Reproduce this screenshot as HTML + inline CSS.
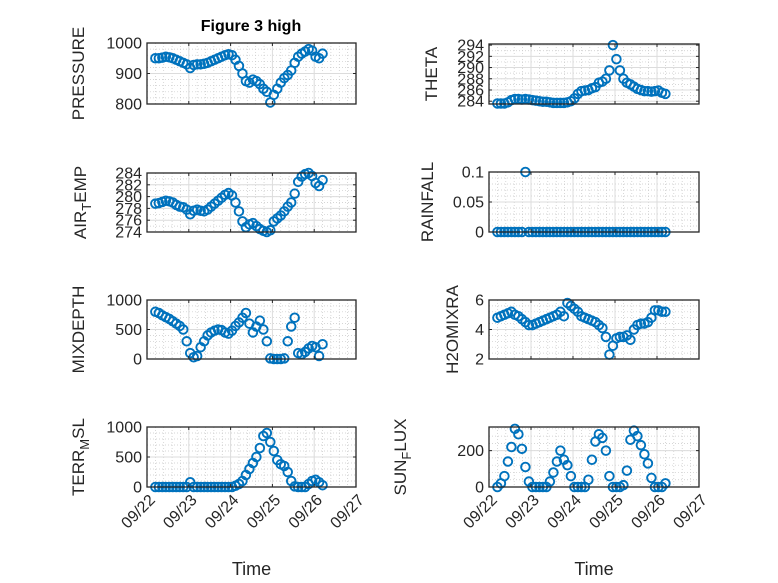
<!DOCTYPE html>
<html><head><meta charset="utf-8"><style>
body{margin:0;background:#fff}
svg{display:block;font-family:"Liberation Sans",sans-serif}
</style></head><body>
<svg id="fig" width="778" height="583" viewBox="0 0 778 583">
<rect width="778" height="583" fill="#fff"/>
<text x="251" y="31" font-size="16" font-weight="bold" text-anchor="middle" fill="#000">Figure 3 high</text>
</svg>
<script>
const tStart = 0.2, tStep = 1/12;
const pressure = [950,950,952,955,953,950,945,940,935,930,918,928,930,930,932,935,940,945,950,955,960,963,960,945,925,900,875,870,880,875,865,850,840,805,830,850,870,885,895,910,935,955,965,972,980,975,955,950,965];
const airTemp = [278.8,278.9,279.1,279.3,279.2,279,278.6,278.3,278.2,277.8,277,277.6,277.8,277.6,277.5,277.8,278.3,278.8,279.3,279.8,280.3,280.6,280.2,279,277.5,275.8,274.8,275.3,275.5,275,274.5,274.2,274,274.3,275.8,276.3,276.8,277.5,278.3,279,280.5,282.5,283.4,283.8,284,283.5,282.3,281.8,282.8];
const theta = [283.6,283.6,283.6,283.8,284.2,284.4,284.4,284.3,284.4,284.3,284.2,284.1,284,283.9,283.9,283.8,283.7,283.7,283.7,283.7,283.8,284,284.5,285.3,285.8,285.9,286,286.3,286.5,287.3,287.5,288,289.5,294,291.5,289.5,288,287.3,287,286.6,286.2,286,285.8,285.8,285.7,285.8,285.9,285.5,285.3];
const rainfall = [0,0,0,0,0,0,0,0,0.1,0,0,0,0,0,0,0,0,0,0,0,0,0,0,0,0,0,0,0,0,0,0,0,0,0,0,0,0,0,0,0,0,0,0,0,0,0,0,0,0];
const mixDepth = [800,780,740,710,680,640,600,560,500,300,100,30,50,200,300,400,450,480,500,490,450,430,480,560,620,700,780,600,450,550,650,500,300,10,0,0,0,10,300,550,700,100,80,120,180,220,200,50,250];
const h2o = [4.8,4.9,5,5.1,5.2,5,4.9,4.7,4.5,4.3,4.3,4.4,4.5,4.6,4.7,4.8,4.9,5,5.2,4.9,5.8,5.6,5.4,5.2,4.9,4.8,4.7,4.6,4.5,4.3,4.1,3.5,2.3,2.9,3.4,3.5,3.5,3.6,3.3,4,4.3,4.4,4.4,4.5,4.8,5.3,5.3,5.2,5.2];
const terrMsl = [0,0,0,0,0,0,0,0,0,0,80,0,0,0,0,0,0,0,0,0,0,0,0,20,50,100,200,300,400,500,650,850,900,750,600,450,380,350,250,100,10,0,0,0,50,100,120,80,30];
const sunFlux = [0,20,60,140,220,320,290,210,110,30,0,0,0,0,0,30,80,140,200,150,120,60,0,0,0,0,40,150,250,290,270,200,60,0,0,0,10,90,260,310,280,230,180,130,50,0,0,0,20];
const xTickLabels = ["09/22","09/23","09/24","09/25","09/26","09/27"];

const NS="http://www.w3.org/2000/svg";
const svg=document.getElementById('fig');
function mk(tag,attrs,parent){const e=document.createElementNS(NS,tag);for(const k in attrs)e.setAttribute(k,attrs[k]);(parent||svg).appendChild(e);return e;}

const panels=[
 {name:'pressure',data:pressure,x0:147,x1:356,y0:43,y1:104,ymin:800,ymax:1000,ticks:[800,900,1000],minor:20,label:['PRESSURE'],lx:78},
 {name:'theta',data:theta,x0:489,x1:699,y0:44,y1:104,ymin:283.5,ymax:294.2,ticks:[284,286,288,290,292,294],minor:1,label:['THETA'],lx:431},
 {name:'air-temp',data:airTemp,x0:147,x1:356,y0:173,y1:232,ymin:274,ymax:284,ticks:[274,276,278,280,282,284],minor:1,label:['AIR','T','EMP'],lx:80},
 {name:'rainfall',data:rainfall,x0:489,x1:699,y0:172,y1:232,ymin:0,ymax:0.1,ticks:[0,0.05,0.1],minor:0.01,label:['RAINFALL'],lx:427},
 {name:'mix-depth',data:mixDepth,x0:147,x1:356,y0:300,y1:359,ymin:0,ymax:1000,ticks:[0,500,1000],minor:100,label:['MIXDEPTH'],lx:78},
 {name:'h2o-mix-ratio',data:h2o,x0:489,x1:699,y0:300,y1:359,ymin:2,ymax:6,ticks:[2,4,6],minor:0.4,label:['H2OMIXRA'],lx:452},
 {name:'terr-msl',data:terrMsl,x0:147,x1:356,y0:427,y1:487,ymin:0,ymax:1000,ticks:[0,500,1000],minor:100,label:['TERR','M','SL'],lx:78},
 {name:'sun-flux',data:sunFlux,x0:489,x1:699,y0:427,y1:487,ymin:0,ymax:330,ticks:[0,200],minor:40,label:['SUN','F','LUX'],lx:400},
];

panels.forEach((p,pi)=>{
  const g=mk('g',{});
  
  
  const xs=t=>p.x0+(t/5)*(p.x1-p.x0);
  const ys=v=>p.y1-(v-p.ymin)/(p.ymax-p.ymin)*(p.y1-p.y0);
  mk('rect',{x:p.x0,y:p.y0,width:p.x1-p.x0,height:p.y1-p.y0,fill:'#fff'},g);
  for(let t=0.2;t<5;t+=0.2){ if(Math.abs(t-Math.round(t))<1e-6)continue;
    mk('line',{x1:xs(t),x2:xs(t),y1:p.y0,y2:p.y1,stroke:'#c8c8c8','stroke-width':0.7,'stroke-dasharray':'1,2'},g);}
  for(let v=p.ymin+ (p.minor-((p.ymin%p.minor)+p.minor)%p.minor);v<p.ymax;v+=p.minor){
    mk('line',{x1:p.x0,x2:p.x1,y1:ys(v),y2:ys(v),stroke:'#c8c8c8','stroke-width':0.7,'stroke-dasharray':'1,2'},g);}
  for(let d=1;d<5;d++) mk('line',{x1:xs(d),x2:xs(d),y1:p.y0,y2:p.y1,stroke:'#dcdcdc','stroke-width':1},g);
  p.ticks.forEach(v=>{ mk('line',{x1:p.x0,x2:p.x1,y1:ys(v),y2:ys(v),stroke:'#dcdcdc','stroke-width':1},g);});
  const dg=mk('g',{},g);
  
  
  p.data.forEach((v,i)=>{
    const c=mk('circle',{cx:xs(tStart+i*tStep),cy:ys(v),r:4.3,fill:'none',stroke:'#0072BD','stroke-width':1.9},dg);
    
    
  });
  mk('rect',{x:p.x0,y:p.y0,width:p.x1-p.x0,height:p.y1-p.y0,fill:'none',stroke:'#262626','stroke-width':1.3},g);
  for(let d=0;d<=5;d++){
    mk('line',{x1:xs(d),x2:xs(d),y1:p.y1,y2:p.y1-3,stroke:'#262626'},g);
    mk('line',{x1:xs(d),x2:xs(d),y1:p.y0,y2:p.y0+3,stroke:'#262626'},g);
  }
  p.ticks.forEach(v=>{
    mk('line',{x1:p.x0,x2:p.x0+3,y1:ys(v),y2:ys(v),stroke:'#262626'},g);
    mk('line',{x1:p.x1,x2:p.x1-3,y1:ys(v),y2:ys(v),stroke:'#262626'},g);
    const t=mk('text',{x:p.x0-5,y:ys(v)+5.5,'font-size':16,'text-anchor':'end',fill:'#262626'},g);
    t.textContent=String(v);
    
    
  });
  const cy=(p.y0+p.y1)/2;
  const lab=mk('text',{x:0,y:0,'font-size':17,'text-anchor':'middle',fill:'#262626',transform:`translate(${p.lx+6},${cy}) rotate(-90)`},g);
  
  
  if(p.label.length===1){lab.textContent=p.label[0];}
  else{
    const a=mk('tspan',{},lab);a.textContent=p.label[0];
    const b=mk('tspan',{dy:5,'font-size':13},lab);b.textContent=p.label[1];
    const c=mk('tspan',{dy:-5},lab);c.textContent=p.label[2];
  }
  if(pi>=6){
    xTickLabels.forEach((s,d)=>{
      const t=mk('text',{x:0,y:0,'font-size':16,'text-anchor':'end',fill:'#262626',transform:`translate(${xs(d)+9},${p.y1+14}) rotate(-45)`},g);
      t.textContent=s;
      
      
    });
    const tt=mk('text',{x:(p.x0+p.x1)/2,y:575,'font-size':18,'text-anchor':'middle',fill:'#262626'},g);
    tt.textContent='Time';
    
    
  }
});
</script>
</body></html>
